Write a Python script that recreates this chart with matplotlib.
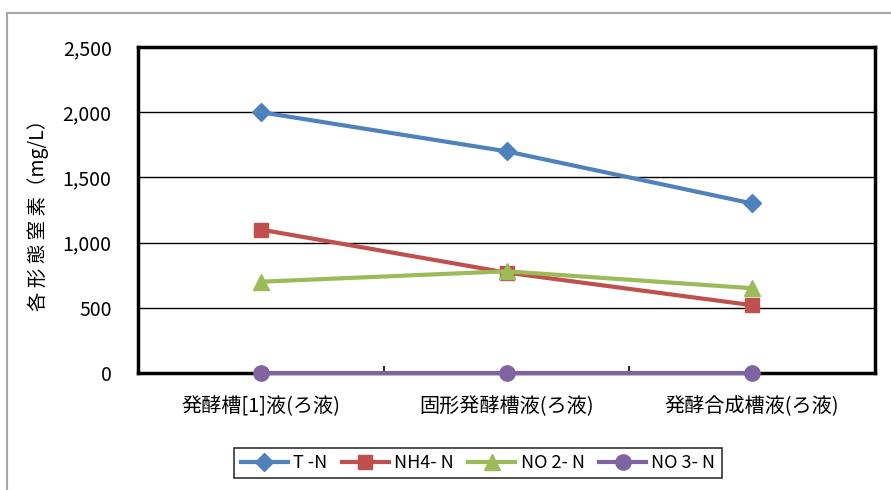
import matplotlib
matplotlib.use("Agg")
import matplotlib.pyplot as plt
from matplotlib.patches import Rectangle

plt.rcParams["font.family"] = ["Noto Sans CJK JP", "DejaVu Sans"]

# Data
categories = ["発酵槽[1]液(ろ液)", "固形発酵槽液(ろ液)", "発酵合成槽液(ろ液)"]
series_names = ["T -N", "NH4- N", "NO 2- N", "NO 3- N"]
t_n = [2000, 1700, 1300]
nh4_n = [1100, 770, 520]
no2_n = [700, 780, 650]
no3_n = [0, 0, 0]
y_ticks = [0, 500, 1000, 1500, 2000, 2500]
y_tick_labels = ["0", "500", "1,000", "1,500", "2,000", "2,500"]


def main():
    fig = plt.figure(figsize=(8.91, 4.90), dpi=100, facecolor="white")

    # outer chart frame (gray)
    fig.patches.append(Rectangle((7 / 891, -0.05), 1.0, 1 - 13 / 490 + 0.05,
                                 transform=fig.transFigure, fill=False,
                                 edgecolor="#a6a6a6", linewidth=1.5))

    ax = fig.add_axes([138 / 891, 1 - 373 / 490, (875 - 138) / 891, (373 - 47) / 490])
    x = list(range(len(categories)))

    styles = [
        (t_n, "#4f81bd", "D", 9),
        (nh4_n, "#c0504d", "s", 10),
        (no2_n, "#9bbb59", "^", 11),
        (no3_n, "#8064a2", "o", 11),
    ]
    for (vals, color, marker, ms), name in zip(styles, series_names):
        ax.plot(x, vals, color=color, linewidth=3, marker=marker, markersize=ms,
                label=name, clip_on=False, zorder=3)

    ax.set_xlim(-0.5, len(categories) - 0.5)
    ax.set_ylim(0, 2500)
    ax.set_yticks(y_ticks)
    ax.set_yticklabels(y_tick_labels)
    ax.set_xticks(x)
    ax.set_xticklabels(categories)
    ax.set_xticks([0.5, 1.5], minor=True)

    ax.tick_params(axis="y", length=0, pad=19, labelsize=14)
    ax.tick_params(axis="x", which="major", length=0, pad=17, labelsize=14.5)
    ax.tick_params(axis="x", which="minor", direction="in", length=5, width=1.2)

    ax.grid(True, axis="y", color="black", linewidth=1)
    ax.set_axisbelow(True)
    for sp in ax.spines.values():
        sp.set_linewidth(2.5)
        sp.set_color("black")

    ax.set_ylabel("各 形 態 窒 素（mg/L）", fontsize=14, labelpad=10)

    leg = fig.legend(loc="center", bbox_to_anchor=(478 / 891, 1 - 463 / 490),
                     ncol=4, fontsize=13, frameon=True, fancybox=False,
                     handlelength=2.6, columnspacing=0.8, handletextpad=0.3,
                     borderpad=0.35)
    leg.get_frame().set_edgecolor("black")
    leg.get_frame().set_linewidth(1.2)

    fig.savefig("out.png", dpi=100, facecolor="white")
    plt.close(fig)


if __name__ == "__main__":
    main()
